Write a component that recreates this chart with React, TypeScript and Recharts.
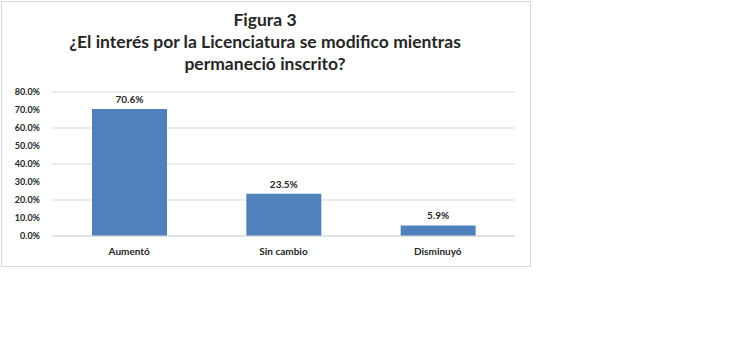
import React from 'react';
import { BarChart, Bar, XAxis, YAxis, CartesianGrid, LabelList } from 'recharts';

const categories = ['Aumentó', 'Sin cambio', 'Disminuyó'];
const percentages = [70.6, 23.5, 5.9];
const yTicks = [0, 10, 20, 30, 40, 50, 60, 70, 80];

const data = categories.map((name, i) => ({ name, value: percentages[i] }));

const FONT = 'Lato, "Open Sans", sans-serif';

const App: React.FC = () => {
  return (
    <div style={{ position: 'absolute', left: 0, top: 0, width: 738, height: 347, background: '#fff', fontFamily: FONT }}>
      <div
        style={{
          position: 'absolute',
          left: 1,
          top: 1,
          width: 528,
          height: 264,
          border: '1px solid #d9d9d9',
        }}
      />
      <div
        style={{
          position: 'absolute',
          left: 0,
          top: 9,
          width: 530,
          textAlign: 'center',
          fontSize: 17.5,
          fontWeight: 700,
          lineHeight: '22px',
          color: '#262626',
        }}
      >
        Figura 3<br />
        ¿El interés por la Licenciatura se modifico mientras<br />
        permaneció inscrito?
      </div>
      <div style={{ position: 'absolute', left: 0, top: 0 }}>
        <BarChart
          width={530}
          height={266}
          data={data}
          margin={{ top: 92, right: 15, bottom: 0, left: 0 }}
          barSize={75}
        >
          <CartesianGrid vertical={false} stroke="#d9d9d9" />
          <XAxis
            dataKey="name"
            height={30}
            axisLine={{ stroke: '#d9d9d9' }}
            tickLine={false}
            tickMargin={6}
            tick={{ fill: '#262626', fontSize: 10, fontWeight: 700, fontFamily: FONT }}
          />
          <YAxis
            width={52}
            domain={[0, 80]}
            ticks={yTicks}
            axisLine={false}
            tickLine={false}
            tickSize={0}
            tickMargin={12}
            tickFormatter={(v: number) => `${v.toFixed(1)}%`}
            tick={{ fill: '#262626', fontSize: 9, fontWeight: 700, fontFamily: FONT }}
          />
          <Bar dataKey="value" fill="#4f81bd" isAnimationActive={false}>
            <LabelList
              dataKey="value"
              position="top"
              offset={6}
              formatter={(v: number) => `${v.toFixed(1)}%`}
              style={{ fill: '#262626', fontSize: 10, fontWeight: 700, fontFamily: FONT }}
            />
          </Bar>
        </BarChart>
      </div>
    </div>
  );
};

export default App;
